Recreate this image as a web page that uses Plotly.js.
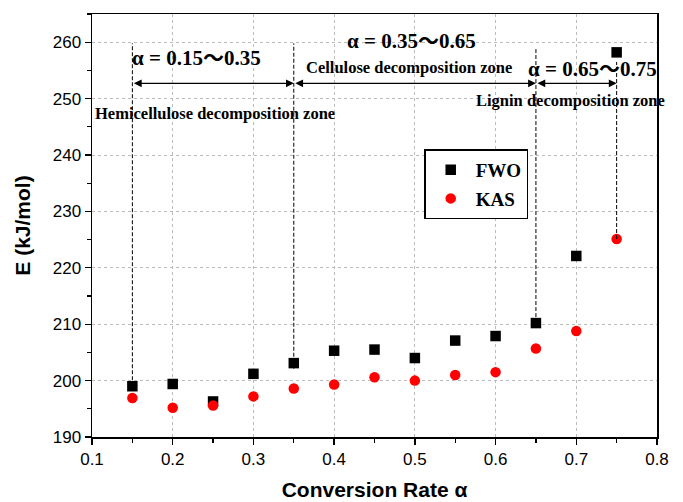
<!DOCTYPE html>
<html>
<head>
<meta charset="utf-8">
<script src="https://cdn.plot.ly/plotly-3.0.1.min.js"></script>
<style>html,body{margin:0;padding:0;background:#fff;}#chart{width:683px;height:502px;}</style>
</head>
<body>
<div id="chart"></div>
<script>
const alpha = [0.15, 0.20, 0.25, 0.30, 0.35, 0.40, 0.45, 0.50, 0.55, 0.60, 0.65, 0.70, 0.75];
const fwo   = [199.0, 199.4, 196.3, 201.2, 203.1, 205.3, 205.5, 204.0, 207.1, 207.9, 210.2, 222.1, 258.2];
const kas   = [196.9, 195.2, 195.6, 197.2, 198.6, 199.3, 200.6, 200.0, 201.0, 201.5, 205.7, 208.8, 225.1];
const zoneBounds = [0.15, 0.35, 0.65, 0.75];
const zoneLabels = ["α = 0.15～0.35", "α = 0.35～0.65", "α = 0.65～0.75"];
const zoneNames = ["Hemicellulose decomposition zone", "Cellulose decomposition zone", "Lignin decomposition zone"];

const serif = "Liberation Serif, Noto Sans CJK SC, serif";
const sans = "Liberation Sans, Arial, sans-serif";

const traces = [
  {x: alpha, y: fwo, name: "FWO", type: "scatter", mode: "markers", legendgroup: "a",
   marker: {symbol: "square", size: 10.5, color: "#000"}},
  {x: alpha, y: kas, name: "KAS", type: "scatter", mode: "markers", legendgroup: "b",
   marker: {symbol: "circle", size: 10.5, color: "#ff0000"}}
];

// vertical dashed guide lines
const lineTops = [259.8, 259.8, 259.0, 256.5];
const lineBottoms = [fwo[0], fwo[4] - 1, fwo[10], kas[12]];
const shapes = zoneBounds.map((b, i) => ({
  type: "line", xref: "x", yref: "y", x0: b, x1: b, y0: lineBottoms[i], y1: lineTops[i],
  line: {color: "#000", width: 1, dash: "4px,2px"}
}));

const arrowY = 252.7;
const annotations = [];
for (let i = 0; i < 3; i++) {
  annotations.push({
    x: zoneBounds[i + 1], y: arrowY, ax: zoneBounds[i], ay: arrowY,
    xref: "x", yref: "y", axref: "x", ayref: "y", text: "",
    showarrow: true, arrowhead: 2, startarrowhead: 2, arrowside: "end+start",
    arrowsize: 1.2, arrowwidth: 1.3, arrowcolor: "#000", standoff: 0, startstandoff: 0
  });
}
// zone labels
const big = {family: serif, size: 21, color: "#000"};
const small = {family: serif, size: 16.5, color: "#000"};
annotations.push({x: 0.2295, y: 257.2, xref: "x", yref: "y", text: "<b>" + zoneLabels[0] + "</b>", showarrow: false, font: big});
annotations.push({x: 0.496, y: 260.3, xref: "x", yref: "y", text: "<b>" + zoneLabels[1] + "</b>", showarrow: false, font: big});
annotations.push({x: 0.72, y: 255.2, xref: "x", yref: "y", text: "<b>" + zoneLabels[2] + "</b>", showarrow: false, font: big});
annotations.push({x: 0.2524, y: 247.3, xref: "x", yref: "y", text: "<b>" + zoneNames[0] + "</b>", showarrow: false, font: small});
annotations.push({x: 0.4922, y: 255.6, xref: "x", yref: "y", text: "<b>" + zoneNames[1] + "</b>", showarrow: false, font: small});
annotations.push({x: 0.693, y: 249.6, xref: "x", yref: "y", text: "<b>" + zoneNames[2] + "</b>", showarrow: false, font: small});

const layout = {
  width: 683, height: 502,
  margin: {l: 92, r: 26, t: 14, b: 65},
  paper_bgcolor: "#fff", plot_bgcolor: "#fff",
  showlegend: true,
  legend: {x: 0.588, y: 0.68, xanchor: "left", yanchor: "top",
           bordercolor: "#000", borderwidth: 1.5, bgcolor: "#fff",
           font: {family: serif, size: 19, color: "#000", weight: "bold"},
           tracegroupgap: 1, traceorder: "grouped", itemwidth: 40},
  xaxis: {
    range: [0.1, 0.8], dtick: 0.1, tick0: 0.1, tickformat: ".1f",
    showline: true, linecolor: "#000", linewidth: 1.5, mirror: true,
    ticks: "outside", ticklen: 6, tickwidth: 1.3, tickcolor: "#000",
    minor: {dtick: 0.05, ticks: "outside", ticklen: 4, tickwidth: 1.2, tickcolor: "#000", showgrid: false},
    showgrid: true, gridcolor: "#bbbbbb", griddash: "dot", gridwidth: 1,
    zeroline: false,
    tickfont: {family: sans, size: 17, color: "#000"},
    title: {text: "<b>Conversion Rate α</b>", font: {family: sans, size: 21, color: "#000"}, standoff: 14}
  },
  yaxis: {
    range: [190, 265], dtick: 10, tick0: 190,
    showline: true, linecolor: "#000", linewidth: 1.5, mirror: true,
    ticks: "outside", ticklen: 6, tickwidth: 1.3, tickcolor: "#000",
    minor: {dtick: 5, ticks: "outside", ticklen: 4, tickwidth: 1.2, tickcolor: "#000", showgrid: false},
    showgrid: true, gridcolor: "#bbbbbb", griddash: "dot", gridwidth: 1,
    zeroline: false,
    tickfont: {family: sans, size: 17, color: "#000"},
    title: {text: "<b>E (kJ/mol)</b>", font: {family: sans, size: 21, color: "#000"}, standoff: 16}
  },
  shapes: shapes,
  annotations: annotations
};

Plotly.newPlot("chart", traces, layout, {displayModeBar: false, staticPlot: true});
</script>
</body>
</html>
